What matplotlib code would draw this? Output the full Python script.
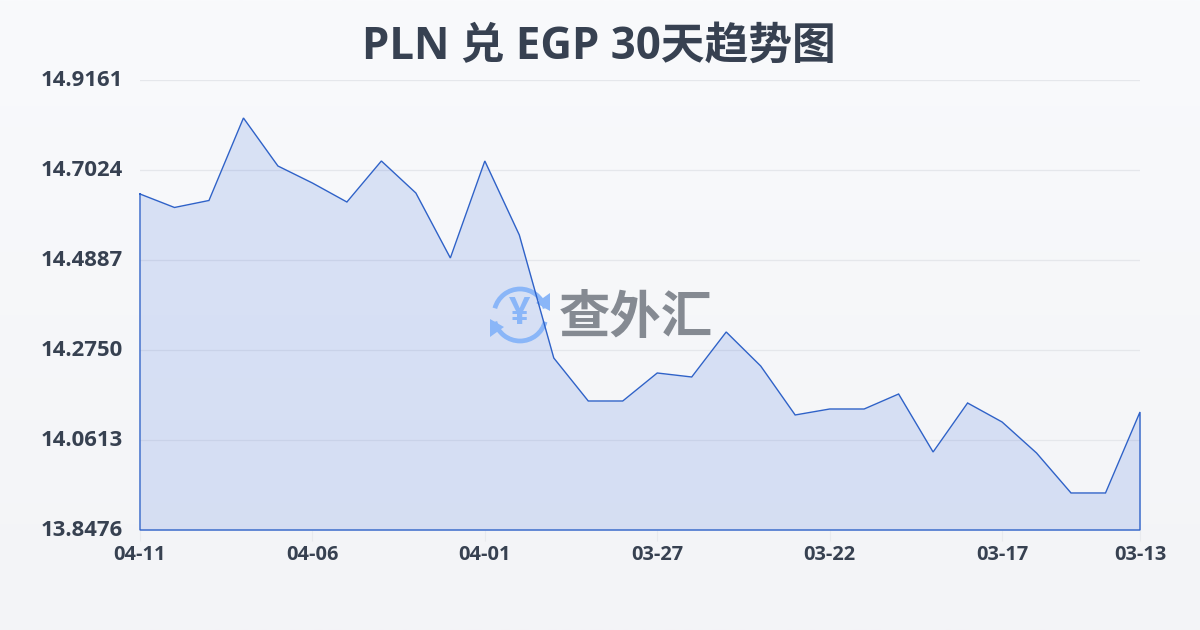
import numpy as np
import matplotlib
matplotlib.use('Agg')
import matplotlib.pyplot as plt
from matplotlib.patches import Arc, Polygon

plt.rcParams['font.family'] = ['Open Sans', 'Noto Sans CJK SC', 'DejaVu Sans']

title = 'PLN 兑 EGP 30天趋势图'
watermark = '查外汇'

# newest first
dates = ['04-11', '04-06', '04-01', '03-27', '03-22', '03-17', '03-13']
date_pos = [0, 5, 10, 15, 20, 25, 29]
y_ticks = [13.8476, 14.0613, 14.2750, 14.4887, 14.7024, 14.9161]
rates = [14.6454, 14.6134, 14.6300, 14.8259, 14.7119, 14.6715, 14.6264, 14.7238,
         14.6478, 14.4935, 14.7238, 14.5481, 14.2560, 14.1539, 14.1539, 14.2204,
         14.2109, 14.3178, 14.2370, 14.1207, 14.1349, 14.1349, 14.1705, 14.0328,
         14.1492, 14.1041, 14.0304, 13.9355, 13.9355, 14.1278]

text_color = '#374151'
line_color = '#2f62c8'
logo_color = '#8ab6f8'

fig = plt.figure(figsize=(12, 6.3), dpi=100)

# background, also used as a pixel canvas for the logo
bg = fig.add_axes([0, 0, 1, 1], zorder=0)
gradient = np.linspace(0, 1, 256).reshape(-1, 1)
cmap = matplotlib.colors.LinearSegmentedColormap.from_list('bg', ['#f9fafc', '#f3f4f7'])
bg.imshow(gradient, aspect='auto', cmap=cmap, extent=[0, 1200, 630, 0])
bg.set_xlim(0, 1200)
bg.set_ylim(630, 0)
bg.axis('off')

ax = fig.add_axes([140 / 1200, 100 / 630, 1000 / 1200, 450 / 630], zorder=1)
ax.patch.set_alpha(0)
x = np.arange(len(rates))

ax.fill_between(x, rates, y_ticks[0], color='#2a5fd8', alpha=0.15, lw=0, zorder=2)
ax.plot(np.r_[x, x[-1], x[0], x[0]], np.r_[rates, y_ticks[0], y_ticks[0], rates[0]],
        color=line_color, lw=1.0, zorder=5, clip_on=False, solid_joinstyle='miter')

ax.set_xlim(0, 29)
ax.set_ylim(y_ticks[0], y_ticks[-1])
ax.set_xticks(date_pos)
ax.set_xticklabels(dates, fontsize=14.4, fontweight='bold', color=text_color)
ax.set_yticks(y_ticks)
ax.set_yticklabels(['%.4f' % v for v in y_ticks], fontsize=15.9, fontweight='bold',
                   color=text_color, va='center')
ax.tick_params(axis='y', length=0, pad=12)
ax.tick_params(axis='x', length=8, width=0.8, color='#e8eaee', pad=3)
ax.grid(axis='y', color='#e5e7eb', lw=0.9, zorder=1)
ax.set_axisbelow(True)
for s in ax.spines.values():
    s.set_visible(False)

# watermark, sits under the line
logo_kw = dict(transform=bg.transData, zorder=3, clip_on=False)
ax.add_patch(Arc((520, 315), 52, 52, theta1=195, theta2=345, angle=180, color=logo_color, lw=3.4, **logo_kw))
ax.add_patch(Arc((520, 315), 52, 52, theta1=195, theta2=345, color=logo_color, lw=3.4, **logo_kw))
ax.add_patch(Polygon([[536, 303], [550, 293], [550, 311]], color=logo_color, lw=0, **logo_kw))
ax.add_patch(Polygon([[504, 327], [490, 319], [490, 337]], color=logo_color, lw=0, **logo_kw))
ax.text(520, 314, '¥', color=logo_color, fontsize=27, fontweight='bold', ha='center', va='center',
        family=['Open Sans'], **logo_kw)
ax.text(636, 318, watermark, color='#858a92', fontsize=37, fontweight='bold', ha='center', va='center',
        family=['Noto Sans CJK SC'], **logo_kw)

bg.text(599, 47, title, color=text_color, fontsize=31.5, fontweight='bold', ha='center', va='center',
        family=['Open Sans', 'Noto Sans CJK SC', 'DejaVu Sans'])

fig.savefig('out.png', dpi=100)
